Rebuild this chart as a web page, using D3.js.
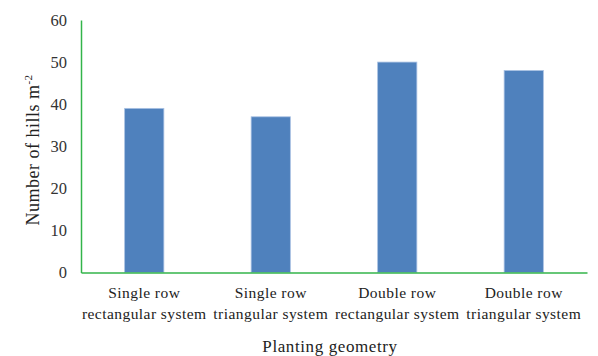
<!DOCTYPE html>
<html><head><meta charset="utf-8">
<script src="https://cdn.jsdelivr.net/npm/d3@7"></script>
<style>body{margin:0;background:#fff}svg{display:block}</style>
</head><body><svg id="c" width="598" height="356"></svg>
<script>
const categories = [["Single row","rectangular system"],["Single row","triangular system"],["Double row","rectangular system"],["Double row","triangular system"]];
const values = [39, 37, 50, 48];
const yTicks = [0,10,20,30,40,50,60];
const xTitle = "Planting geometry";
const yTitle = "Number of hills m";
const ySup = "-2";

(function(){
const svg = d3.select("#c");
const mLeft = 81, mRight = 587, mTop = 20, mBottom = 272.5;
const font = "'Liberation Serif','Times New Roman',serif";
const x = d3.scaleBand().domain(d3.range(categories.length)).range([mLeft, mRight]).paddingInner(0.69).paddingOuter(0.345);
const y = d3.scaleLinear().domain([0, 60]).range([mBottom, mTop]);

svg.selectAll("rect.bar").data(values).join("rect").attr("class","bar")
  .attr("x",(d,i)=>x(i)).attr("width",x.bandwidth())
  .attr("y",d=>y(d)).attr("height",d=>y(0)-y(d))
  .attr("fill","#4f81bd").attr("stroke","#a9c1e3").attr("stroke-width",0.8);

const ya = svg.append("g").attr("transform",`translate(${mLeft},0)`).call(d3.axisLeft(y).tickValues(yTicks).tickSize(0).tickPadding(14));
ya.select(".domain").attr("stroke","#33b44a").attr("stroke-width",1.5);
ya.selectAll("text").attr("font-family",font).attr("font-size",16.5).attr("fill","#333");

const xa = svg.append("g").attr("transform",`translate(0,${mBottom})`).call(d3.axisBottom(x).tickSize(0).tickFormat(""));
xa.select(".domain").attr("stroke","#33b44a").attr("stroke-width",1.5);
xa.selectAll(".tick").each(function(d,i){
  const t = d3.select(this).append("text").attr("font-family",font).attr("font-size",15.5).attr("letter-spacing",0.45).attr("fill","#222").attr("text-anchor","middle");
  t.append("tspan").attr("x",0).attr("y",25).text(categories[i][0]);
  t.append("tspan").attr("x",0).attr("y",46).text(categories[i][1]);
});

svg.append("text").attr("x",(mLeft+mRight)/2 - 4).attr("y",352).attr("text-anchor","middle")
  .attr("font-family",font).attr("font-size",17).attr("letter-spacing",0.6).attr("fill","#222").text(xTitle);

const yl = svg.append("text").attr("transform","translate(39,150) rotate(-90)").attr("text-anchor","middle")
  .attr("font-family",font).attr("font-size",18).attr("letter-spacing",0.5).attr("fill","#222");
yl.append("tspan").text(yTitle);
yl.append("tspan").attr("dy",-7).attr("font-size",11).text(ySup);
})();
</script></body></html>
